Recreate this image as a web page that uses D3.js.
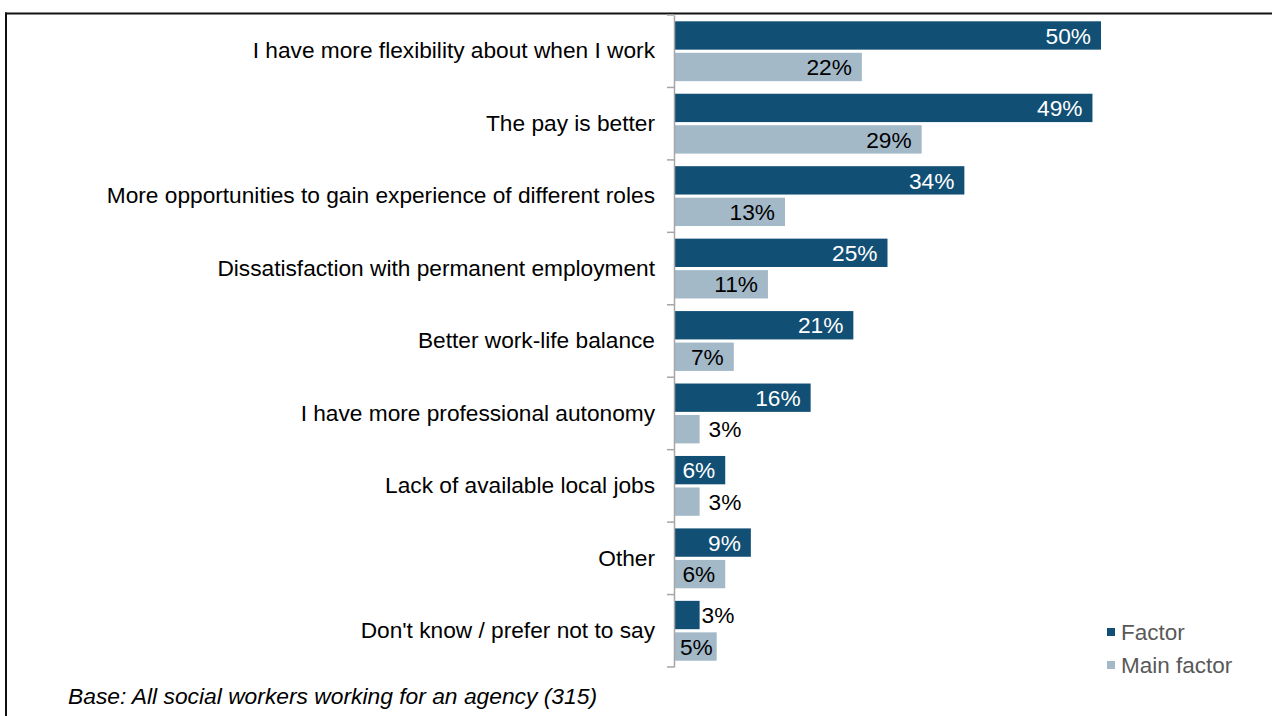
<!DOCTYPE html>
<html><head><meta charset="utf-8">
<script src="https://cdn.jsdelivr.net/npm/d3@7"></script>
<style>body{margin:0;background:#fff}svg{display:block;font-family:Arial,"Liberation Sans",sans-serif}</style>
</head><body><svg id="c" width="1272" height="716"></svg>
<script>
const categories = [
  "I have more flexibility about when I work",
  "The pay is better",
  "More opportunities to gain experience of different roles",
  "Dissatisfaction with permanent employment",
  "Better work-life balance",
  "I have more professional autonomy",
  "Lack of available local jobs",
  "Other",
  "Don't know / prefer not to say"
];
const factor = [50, 49, 34, 25, 21, 16, 6, 9, 3];
const mainFactor = [22, 29, 13, 11, 7, 3, 3, 6, 5];
const seriesNames = ["Factor", "Main factor"];
const colors = ["#124f74", "#a3b9c8"];
const baseNote = "Base: All social workers working for an agency (315)";

const svg = d3.select("#c");
const x0 = 674, y0 = 15, y1 = 667;
const x = d3.scaleLinear().domain([0, 50]).range([x0, x0 + 427]);
const y = d3.scaleBand().domain(categories).range([y0, y1]);
const inner = d3.scaleBand().domain([0, 1]).range([0, y.bandwidth()]).paddingInner(0.1).paddingOuter(0.2);

// frame
svg.append("line").attr("x1", 5).attr("x2", 1272).attr("y1", 13.5).attr("y2", 13.5).attr("stroke", "#111").attr("stroke-width", 2);
svg.append("line").attr("x1", 6).attr("x2", 6).attr("y1", 12.5).attr("y2", 716).attr("stroke", "#111").attr("stroke-width", 2);

const series = [factor, mainFactor];
series.forEach((vals, si) => {
  const g = svg.append("g");
  categories.forEach((c, i) => {
    const v = vals[i];
    const by = y(c) + inner(si);
    const bh = inner.bandwidth();
    g.append("rect").attr("x", x(0)).attr("y", by).attr("width", x(v) - x(0)).attr("height", bh)
      .attr("fill", colors[si]);
    const w = x(v) - x(0);
    const t = g.append("text")
      .attr("y", by + bh / 2)
      .attr("dy", "0.36em")
      .attr("text-anchor", "start")
      .attr("font-size", 22.7)
      .text(v + "%");
    const tw = t.node().getComputedTextLength();
    const fits = w > tw + 8;
    const tx = fits ? Math.max(x(v) - 10 - tw, x0 + 6) : x(v) + (si === 0 ? 2 : 9);
    t.attr("x", tx).attr("fill", fits && si === 0 ? "#fff" : "#000");
  });
});

// axis
const axis = d3.axisLeft(y).tickSize(0).tickPadding(19);
const ag = svg.append("g").attr("transform", `translate(${x0},0)`).call(axis);
ag.select(".domain").attr("stroke", "#a6a6a6").attr("stroke-width", 1.5);
ag.selectAll("text").attr("font-size", 22.7).attr("fill", "#000").attr("font-family", "Arial, 'Liberation Sans', sans-serif");
// boundary ticks
const bounds = categories.map(c => y(c)).concat([y1]);
svg.append("g").selectAll("line").data(bounds).join("line")
  .attr("x1", x0 - 7).attr("x2", x0).attr("y1", d => d).attr("y2", d => d)
  .attr("stroke", "#a6a6a6").attr("stroke-width", 1.5);

// legend
const lg = svg.append("g");
seriesNames.forEach((n, i) => {
  const cy = 632 + i * 33;
  lg.append("rect").attr("x", 1107).attr("y", cy - 4).attr("width", 8).attr("height", 8).attr("fill", colors[i]);
  lg.append("text").attr("x", 1121).attr("y", cy).attr("dy", "0.36em").attr("font-size", 22.5).attr("fill", "#595959").text(n);
});

// base note
svg.append("text").attr("x", 68).attr("y", 704).attr("font-size", 22).attr("font-style", "italic")
  .attr("fill", "#000").attr("textLength", 529).attr("lengthAdjust", "spacingAndGlyphs").text(baseNote);
</script></body></html>
